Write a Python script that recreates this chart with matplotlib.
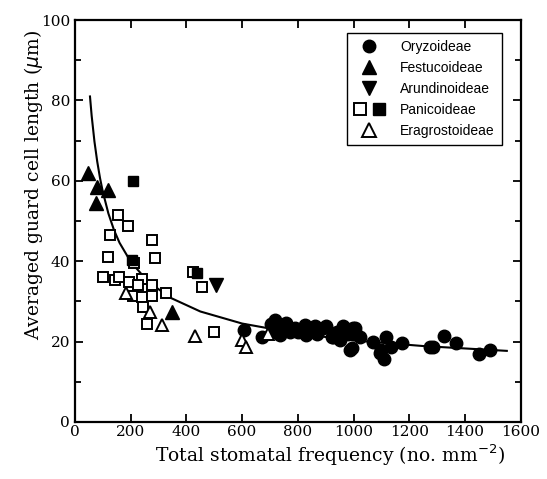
import matplotlib
matplotlib.use("Agg")
import matplotlib.pyplot as plt
from matplotlib.ticker import MultipleLocator
from matplotlib.legend_handler import HandlerTuple
from matplotlib.lines import Line2D

# ---- data ----
ory_x = [607, 670, 705, 717, 720, 735, 745, 759, 771, 790, 800, 825, 831, 850, 860, 870,
         891, 900, 921, 927, 940, 951, 963, 980, 987, 993, 999, 1004, 1010, 1022, 1070,
         1094, 1100, 1108, 1118, 1136, 1175, 1274, 1285, 1325, 1369, 1449, 1489]
ory_y = [22.9, 21.2, 24.5, 25.4, 22.5, 21.6, 23.0, 24.7, 22.5, 23.5, 22.5, 24.1, 21.6, 22.8,
         24.0, 22.0, 23.3, 23.8, 21.2, 21.2, 22.5, 20.4, 23.9, 22.0, 17.9, 18.3, 23.3, 23.3,
         22.0, 21.2, 20.0, 17.2, 17.9, 15.8, 21.2, 18.7, 19.6, 18.7, 18.7, 21.4, 19.7, 16.9, 17.9]

fes_x = [48, 78, 120, 75, 347]
fes_y = [62.0, 58.5, 57.7, 54.4, 27.4]

aru_x = [508]
aru_y = [34.1]

pan_open_x = [155, 191, 126, 275, 120, 287, 212, 99, 143, 159, 195, 239, 227, 275, 326,
              209, 239, 275, 245, 259, 424, 455, 499]
pan_open_y = [51.5, 48.8, 46.5, 45.4, 41.1, 40.9, 39.5, 36.2, 35.3, 36.2, 34.9, 35.7, 34.1,
              34.1, 32.0, 31.4, 31.2, 31.4, 28.7, 24.5, 37.2, 33.5, 22.5]
pan_fill_x = [207, 205, 437]
pan_fill_y = [60.0, 40.2, 37.0]

era_x = [185, 271, 311, 430, 598, 613, 693]
era_y = [32.0, 27.4, 24.1, 21.4, 20.4, 18.7, 21.9]

# fitted curve, points
fit_x = [54, 60, 70, 80, 90, 100, 120, 140, 160, 200, 260, 340, 450, 600, 800, 1000, 1250, 1550]
fit_y = [81.0, 76.2, 69.8, 64.8, 60.7, 57.3, 51.9, 47.8, 44.6, 39.9, 35.1, 31.0, 27.5, 24.5,
         22.0, 20.3, 18.9, 17.7]

fig = plt.figure(figsize=(5.47, 4.79), dpi=100)
ax = fig.add_axes([0.137, 0.119, 0.815, 0.839])

ax.plot(fit_x, fit_y, color='black', lw=1.5, zorder=1)

mew = 1.4
ax.plot(ory_x, ory_y, 'o', ms=9, color='black', zorder=3)
ax.plot(fes_x, fes_y, '^', ms=10, color='black', zorder=3)
ax.plot(aru_x, aru_y, 'v', ms=10, color='black', zorder=3)
ax.plot(pan_open_x, pan_open_y, 's', ms=7.5, mfc='white', mec='black', mew=mew, zorder=3)
ax.plot(pan_fill_x, pan_fill_y, 's', ms=7.5, color='black', zorder=4)
ax.plot(era_x, era_y, '^', ms=9, mfc='white', mec='black', mew=mew, zorder=3)

ax.set_xlim(0, 1600)
ax.set_ylim(0, 100)
ax.xaxis.set_major_locator(MultipleLocator(200))
ax.yaxis.set_major_locator(MultipleLocator(20))
ax.yaxis.set_minor_locator(MultipleLocator(10))
ax.tick_params(which='both', direction='in', top=True, right=True, width=1.3)
ax.tick_params(which='major', length=6, labelsize=11)
ax.tick_params(which='minor', length=4)
ax.tick_params(axis='x', pad=2.5)
for lab in ax.get_xticklabels() + ax.get_yticklabels():
    lab.set_fontfamily('DejaVu Serif')
for s in ax.spines.values():
    s.set_linewidth(1.6)

ax.set_xlabel('Total stomatal frequency (no. mm$^{-2}$)', fontsize=13.5,
              fontfamily='DejaVu Serif')
ax.set_ylabel(r'Averaged guard cell length ($\mu$m)', fontsize=13.5,
              fontfamily='DejaVu Serif')
ax.xaxis.set_label_coords(0.572, -0.052)
ax.yaxis.set_label_coords(-0.068, 0.59)

h_ory = Line2D([], [], marker='o', ls='', ms=9, color='black')
h_fes = Line2D([], [], marker='^', ls='', ms=10, color='black')
h_aru = Line2D([], [], marker='v', ls='', ms=10, color='black')
h_po = Line2D([], [], marker='s', ls='', ms=8, mfc='white', mec='black', mew=mew)
h_pf = Line2D([], [], marker='s', ls='', ms=8, color='black')
h_era = Line2D([], [], marker='^', ls='', ms=10, mfc='white', mec='black', mew=mew)
leg = ax.legend([h_ory, h_fes, h_aru, (h_po, h_pf), h_era],
                ['Oryzoideae', 'Festucoideae', 'Arundinoideae', 'Panicoideae', 'Eragrostoideae'],
                handler_map={tuple: HandlerTuple(ndivide=None, pad=0.6)},
                loc='upper right', bbox_to_anchor=(0.957, 0.968), borderaxespad=0,
                fancybox=False, edgecolor='black', framealpha=1,
                prop={'family': 'Liberation Sans', 'size': 10},
                handlelength=2.2, labelspacing=0.5, borderpad=0.5, handletextpad=1.1)
leg.get_frame().set_linewidth(1.0)

fig.savefig('out.png', dpi=100)
